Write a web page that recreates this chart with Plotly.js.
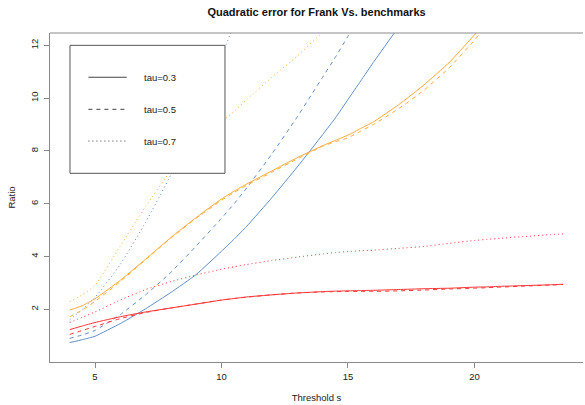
<!DOCTYPE html>
<html>
<head>
<meta charset="utf-8">
<script src="https://cdn.plot.ly/plotly-3.0.1.min.js"></script>
<style>html,body{margin:0;padding:0;background:#fff;}#chart{width:585px;height:405px;}</style>
</head>
<body>
<div id="chart"></div>
<script>
// Threshold values
var thresholds = [4, 4.5, 5, 6, 7, 8, 9, 10, 10.5, 11, 12, 13, 14, 14.5, 15, 15.5, 16, 17, 18, 19, 20, 20.5, 21, 22, 23, 23.5];

// Blue benchmark
var blueTau03 = [0.74, 0.85, 0.98, 1.46, 2.02, 2.64, 3.32, 4.2, 4.66, 5.15, 6.24, 7.4, 8.62, 9.25, 9.95, 10.65, 11.35, 12.7, null, null, null, null, null, null, null, null];
var blueTau05 = [0.9, 1.03, 1.2, 1.8, 2.55, 3.4, 4.4, 5.45, 6.0, 6.6, 7.9, 9.3, 10.8, 11.55, 12.35, 13.2, null, null, null, null, null, null, null, null, null, null];
var blueTau07 = [1.6, 2.0, 2.45, 3.7, 5.3, 7.1, 9.3, 11.6, 12.8, null, null, null, null, null, null, null, null, null, null, null, null, null, null, null, null, null];

// Orange benchmark
var orangeTau03 = [1.97, 2.14, 2.4, 3.1, 3.9, 4.72, 5.48, 6.18, 6.48, 6.75, 7.25, 7.75, 8.2, 8.4, 8.6, 8.85, 9.1, 9.75, 10.5, 11.35, 12.4, 13.0, null, null, null, null];
var orangeTau05 = [1.72, 1.97, 2.3, 3.05, 3.88, 4.7, 5.45, 6.13, 6.43, 6.7, 7.2, 7.7, 8.18, 8.35, 8.5, 8.75, 9.0, 9.6, 10.3, 11.15, 12.2, 12.8, null, null, null, null];
var orangeTau07 = [2.29, 2.55, 2.9, 4.4, 5.9, 7.25, 8.2, 9.1, 9.5, 9.95, 10.8, 11.6, 12.5, 12.9, null, null, null, null, null, null, null, null, null, null, null, null];

// Red benchmark
var redTau03 = [1.23, 1.37, 1.5, 1.72, 1.9, 2.05, 2.2, 2.35, 2.41, 2.47, 2.55, 2.62, 2.67, 2.69, 2.7, 2.71, 2.72, 2.75, 2.78, 2.8, 2.84, 2.85, 2.87, 2.9, 2.93, 2.95];
var redTau05 = [1.05, 1.2, 1.35, 1.65, 1.88, 2.05, 2.2, 2.35, 2.41, 2.46, 2.55, 2.62, 2.66, 2.67, 2.68, 2.68, 2.68, 2.7, 2.73, 2.77, 2.8, 2.82, 2.84, 2.88, 2.92, 2.94];
var redTau07 = [1.5, 1.7, 1.9, 2.35, 2.75, 3.05, 3.3, 3.52, 3.61, 3.7, 3.85, 3.98, 4.1, 4.15, 4.19, 4.22, 4.24, 4.31, 4.38, 4.5, 4.61, 4.65, 4.69, 4.76, 4.83, 4.86];

var xTicks = [5, 10, 15, 20];
var yTicks = [2, 4, 6, 8, 10, 12];
var legendLabels = ["tau=0.3", "tau=0.5", "tau=0.7"];

var BLUE = "#5f8ec8", ORANGE = "#ffaa33", RED = "#ff3333";
var SOLID = "solid", DASHED = "4px,4px", DOTTED = "1px,3px";

function tr(y, color, dash, name) {
  return {x: thresholds, y: y, type: "scatter", mode: "lines", name: name,
    line: {color: color, width: 1, dash: dash, shape: "spline", smoothing: 0.4},
    connectgaps: false, showlegend: false, hoverinfo: "x+y"};
}

var data = [
  tr(blueTau03, BLUE, SOLID, "blue tau=0.3"),
  tr(blueTau05, BLUE, DASHED, "blue tau=0.5"),
  tr(blueTau07, BLUE, DOTTED, "blue tau=0.7"),
  tr(orangeTau03, ORANGE, SOLID, "orange tau=0.3"),
  tr(orangeTau05, ORANGE, DASHED, "orange tau=0.5"),
  tr(orangeTau07, ORANGE, DOTTED, "orange tau=0.7"),
  tr(redTau03, RED, SOLID, "red tau=0.3"),
  tr(redTau05, RED, DASHED, "red tau=0.5"),
  tr(redTau07, RED, DOTTED, "red tau=0.7")
];

var FONT = "Liberation Sans, Arial, Helvetica, sans-serif";
var AX = "#8a8a8a";

// legend geometry in paper coordinates
var L = {x0: 0.0375, x1: 0.3283, y0: 0.5735, y1: 0.9625, lx0: 0.072, lx1: 0.144, tx: 0.172};
var legY = [0.8655, 0.768, 0.6715];
var legDashStr = [SOLID, DASHED, DOTTED];

var shapes = [
  {type: "line", xref: "paper", yref: "paper", x0: 0, x1: 1, y0: 1, y1: 1, line: {color: AX, width: 1}, layer: "above"},
  {type: "rect", xref: "paper", yref: "paper", x0: L.x0, x1: L.x1, y0: L.y0, y1: L.y1,
   fillcolor: "#ffffff", line: {color: "#555555", width: 1}, layer: "above"}
];
var annotations = [];
for (var i = 0; i < legendLabels.length; i++) {
  shapes.push({type: "line", xref: "paper", yref: "paper", x0: L.lx0, x1: L.lx1, y0: legY[i], y1: legY[i],
    line: {color: "#444444", width: 1, dash: legDashStr[i]}, layer: "above"});
  annotations.push({xref: "paper", yref: "paper", x: L.tx, y: legY[i], text: legendLabels[i],
    showarrow: false, xanchor: "left", yanchor: "middle", font: {family: FONT, size: 9.5, color: "#222"}});
}

var layout = {
  width: 585, height: 405,
  margin: {l: 50, r: 2, t: 33, b: 43, pad: 0},
  paper_bgcolor: "#ffffff", plot_bgcolor: "#ffffff",
  font: {family: FONT, size: 9.5, color: "#222"},
  title: {text: "<b>Quadratic error for Frank Vs. benchmarks</b>", font: {family: FONT, size: 11, color: "#111"},
    x: 0.5, xref: "paper", y: 0.970, yref: "container", yanchor: "middle"},
  xaxis: {range: [3.221, 24.29], tickvals: xTicks, ticktext: xTicks.map(String),
    showgrid: false, zeroline: false, showline: true, linecolor: AX, linewidth: 1,
    ticks: "outside", ticklen: 5, tickcolor: AX, tickwidth: 1, ticklabelstandoff: 1, tickfont: {size: 9.5, color: "#222"},
    title: {text: "Threshold s", font: {size: 9.5, color: "#222"}, standoff: 12}},
  yaxis: {range: [0.004, 12.47], tickvals: yTicks, ticktext: yTicks.map(String), tickangle: -90,
    showgrid: false, zeroline: false, showline: true, linecolor: AX, linewidth: 1,
    ticks: "outside", ticklen: 5, tickcolor: AX, tickwidth: 1, ticklabelstandoff: 2, tickfont: {size: 9.5, color: "#222"},
    title: {text: "Ratio", font: {size: 9.5, color: "#222"}, standoff: 11}},
  shapes: shapes,
  annotations: annotations,
  showlegend: false
};

Plotly.newPlot("chart", data, layout, {displayModeBar: false, staticPlot: true});
</script>
</body>
</html>
